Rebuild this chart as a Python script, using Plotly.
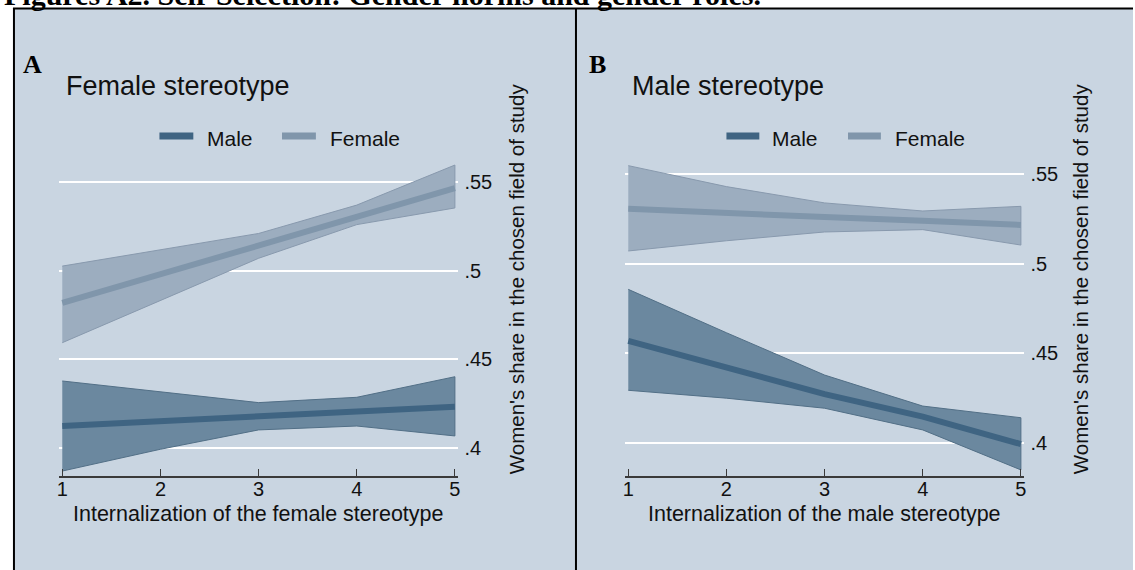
import plotly.graph_objects as go

W, H = 1135, 570

# ---------------- data ----------------
levels = [1, 2, 3, 4, 5]

# Panel A: female stereotype
a_female = [0.4818, 0.4980, 0.5145, 0.5310, 0.5466]
a_female_hi = [0.5026, 0.5120, 0.5210, 0.5370, 0.5596]
a_female_lo = [0.4594, 0.4830, 0.5070, 0.5260, 0.5354]
a_male = [0.4124, 0.4150, 0.4180, 0.4205, 0.4233]
a_male_hi = [0.4378, 0.4315, 0.4256, 0.4286, 0.4402]
a_male_lo = [0.3870, 0.3993, 0.4102, 0.4124, 0.4068]

# Panel B: male stereotype
b_female = [0.5307, 0.5280, 0.5260, 0.5240, 0.5216]
b_female_hi = [0.5547, 0.5430, 0.5339, 0.5294, 0.5320]
b_female_lo = [0.5071, 0.5128, 0.5177, 0.5190, 0.5104]
b_male = [0.4570, 0.4420, 0.4273, 0.4147, 0.3994]
b_male_hi = [0.4857, 0.4615, 0.4379, 0.4206, 0.4141]
b_male_lo = [0.4294, 0.4250, 0.4194, 0.4073, 0.3850]

y_ticks = [0.4, 0.45, 0.5, 0.55]
y_ticklabels = [".4", ".45", ".5", ".55"]

# ---------------- style ----------------
BG = "#c9d5e1"
MALE_LINE = "#3f6482"
MALE_FILL = "#6b889f"
MALE_EDGE = "#526f86"
FEM_LINE = "#8096ab"
FEM_FILL = "#9cadbf"
FEM_EDGE = "#8899ad"
FONT = "Liberation Sans, Arial, sans-serif"
TXT = "#111111"

def px(x):
    return x / W

def py(y):
    return 1 - y / H

fig = go.Figure()

def add_panel(xa, ya, f, fhi, flo, m, mhi, mlo):
    for mid, hi, lo, lc, fc, ec in [
        (f, fhi, flo, FEM_LINE, FEM_FILL, FEM_EDGE),
        (m, mhi, mlo, MALE_LINE, MALE_FILL, MALE_EDGE),
    ]:
        fig.add_trace(go.Scatter(
            x=levels + levels[::-1], y=hi + lo[::-1], fill="toself",
            fillcolor=fc, line=dict(color=ec, width=1), mode="lines",
            xaxis=xa, yaxis=ya, showlegend=False, hoverinfo="skip"))
        fig.add_trace(go.Scatter(
            x=levels, y=mid, mode="lines", line=dict(color=lc, width=6),
            xaxis=xa, yaxis=ya, showlegend=False))

add_panel("x", "y", a_female, a_female_hi, a_female_lo, a_male, a_male_hi, a_male_lo)
add_panel("x2", "y2", b_female, b_female_hi, b_female_lo, b_male, b_male_hi, b_male_lo)

xcommon = dict(range=[0.9645, 5.0355], tickvals=levels, ticktext=[str(v) for v in levels],
               showgrid=False, zeroline=False, showline=True, linecolor="#3a3a3a", linewidth=1.5,
               ticks="inside", ticklen=7, tickcolor="#3a3a3a", tickwidth=1,
               tickfont=dict(family=FONT, size=20, color=TXT), ticklabelstandoff=-6)
ycommon = dict(tickvals=y_ticks, ticktext=y_ticklabels, side="right", showgrid=True,
               gridcolor="white", gridwidth=2, zeroline=False, showline=False, ticks="",
               tickfont=dict(family=FONT, size=20, color=TXT), ticklabelstandoff=5)
ydom = [py(476), py(160)]

fig.update_layout(
    width=W, height=H, margin=dict(l=0, r=0, t=0, b=0),
    paper_bgcolor="white", plot_bgcolor="rgba(0,0,0,0)", showlegend=False,
    xaxis=dict(domain=[px(57), px(458)], anchor="y", **xcommon),
    yaxis=dict(domain=ydom, anchor="x", range=[0.38421, 0.56244], **ycommon),
    xaxis2=dict(domain=[px(625), px(1026)], anchor="y2", **xcommon),
    yaxis2=dict(domain=ydom, anchor="x2", range=[0.38160, 0.55784], **ycommon),
)

shapes = []
# panel background
shapes.append(dict(type="rect", xref="paper", yref="paper", x0=px(12), x1=1.0, y0=0, y1=py(8.5),
                   fillcolor=BG, line=dict(width=0), layer="below"))
# frame lines
shapes.append(dict(type="line", xref="paper", yref="paper", x0=px(11), x1=1.0, y0=py(8.5), y1=py(8.5),
                   line=dict(color="black", width=2), layer="above"))
shapes.append(dict(type="line", xref="paper", yref="paper", x0=px(12), x1=px(12), y0=0, y1=py(8),
                   line=dict(color="black", width=2), layer="above"))
shapes.append(dict(type="line", xref="paper", yref="paper", x0=px(576), x1=px(576), y0=0, y1=py(8),
                   line=dict(color="black", width=2), layer="above"))

annotations = []
# figure title (cut off at top)
annotations.append(dict(text="<b>Figures A2. Self-Selection: Gender norms and gender roles.</b>",
                        xref="paper", yref="paper", x=0, y=py(13), xanchor="left", yanchor="bottom",
                        showarrow=False, font=dict(family="Liberation Serif, Times New Roman, serif",
                                                   size=30, color="black")))

def panel_text(letter, lx, title, tx, leg_m, leg_f, ytitle_x, xtitle, xcenter):
    annotations.append(dict(text="<b>%s</b>" % letter, xref="paper", yref="paper", x=px(lx), y=py(64),
                            xanchor="left", yanchor="middle", showarrow=False,
                            font=dict(family="Liberation Serif, Times New Roman, serif", size=26, color="black")))
    annotations.append(dict(text=title, xref="paper", yref="paper", x=px(tx), y=py(86),
                            xanchor="left", yanchor="middle", showarrow=False,
                            font=dict(family=FONT, size=27, color=TXT)))
    for (x0, x1, tx0, lab, col) in [(leg_m[0], leg_m[1], leg_m[2], "Male", MALE_LINE),
                                    (leg_f[0], leg_f[1], leg_f[2], "Female", FEM_LINE)]:
        shapes.append(dict(type="line", xref="paper", yref="paper", x0=px(x0), x1=px(x1),
                           y0=py(136), y1=py(136), line=dict(color=col, width=7)))
        annotations.append(dict(text=lab, xref="paper", yref="paper", x=px(tx0), y=py(138),
                                xanchor="left", yanchor="middle", showarrow=False,
                                font=dict(family=FONT, size=21, color=TXT)))
    annotations.append(dict(text="Women's share in the chosen field of study", xref="paper", yref="paper",
                            x=px(ytitle_x), y=py(279), xanchor="center", yanchor="middle", textangle=-90,
                            showarrow=False, font=dict(family=FONT, size=20.5, color=TXT)))
    annotations.append(dict(text=xtitle, xref="paper", yref="paper", x=px(xcenter), y=py(514),
                            xanchor="center", yanchor="middle", showarrow=False,
                            font=dict(family=FONT, size=21.5, color=TXT)))

panel_text("A", 19, "Female stereotype", 62, (158, 192, 204), (281, 315, 327), 516,
           "Internalization of the female stereotype", 257.5)
panel_text("B", 587, "Male stereotype", 630, (727, 760, 771), (849, 882, 894), 1082,
           "Internalization of the male stereotype", 825.5)

fig.update_layout(shapes=shapes, annotations=annotations)
fig.write_html("out.html")
